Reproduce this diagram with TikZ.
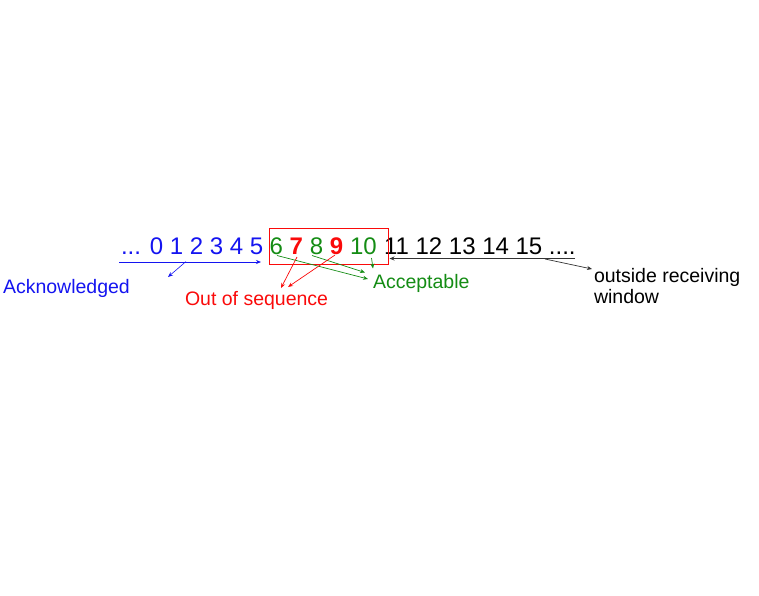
\documentclass[tikz,border=0pt]{standalone}
\usepackage{fontspec}
\setmainfont{Liberation Sans}
\usetikzlibrary{arrows.meta}
\definecolor{ackblue}{RGB}{20,20,240}
\definecolor{okgreen}{RGB}{20,140,20}
\definecolor{seqred}{RGB}{250,10,10}
\begin{document}
\begin{tikzpicture}[x=1pt,y=-1pt,
  num/.style={inner sep=0pt,outer sep=0pt,anchor=base west,font=\fontsize{24}{28}\selectfont},
  lbl/.style={inner sep=0pt,outer sep=0pt,anchor=base west,font=\fontsize{19.5}{22}\selectfont},
  conn/.style={line width=0.7pt,-{Stealth[length=5pt,width=4pt]}}]
\useasboundingbox (0,0) rectangle (759,595);
% sequence numbers
\node[num,text=ackblue] (acked) at (121,254) {... 0 1 2 3 4 5};
\node[num,text=okgreen] (n6) at (269.6,254) {6};
\node[num,text=seqred] (n7) at (289.7,254) {\bfseries 7};
\node[num,text=okgreen] (n8) at (309.8,254) {8};
\node[num,text=seqred] (n9) at (329.9,254) {\bfseries 9};
\node[num,text=okgreen] (n10) at (350,254) {10};
\node[num,text=black] (rest) at (384,254) {11 12 13 14 15 ....};
% receiving window
\node[draw=seqred,line width=0.7pt,inner sep=0pt,minimum width=119pt,minimum height=36pt,anchor=north west] (win) at (269,228) {};
% labels
\node[lbl,text=ackblue] (ack) at (3,293) {Acknowledged};
\node[lbl,text=seqred] (oos) at (185,305) {Out of sequence};
\node[lbl,text=okgreen] (acc) at (373,288) {Acceptable};
\node[lbl,text=black] (out) at (594,282) {outside receiving};
\node[lbl,text=black] (out2) at (594,303) {window};
% blue arrows
\coordinate (bs) at (119,262);
\coordinate (be) at (261,262);
\coordinate (bm) at (186,261.5);
\coordinate (bt) at (168,277);
\draw[conn,ackblue] (bs) -- (be);
\draw[conn,ackblue,line width=0.6pt] (bm) -- (bt);
% green arrows
\coordinate (g6) at (277,255.5);
\coordinate (g6e) at (368,279);
\coordinate (g8) at (312,255.5);
\coordinate (g8e) at (365,272.5);
\coordinate (g10) at (371.5,258);
\coordinate (g10e) at (373,268.5);
\draw[conn,okgreen] (g6) -- (g6e);
\draw[conn,okgreen] (g8) -- (g8e);
\draw[conn,okgreen] (g10) -- (g10e);
% red arrows
\coordinate (r7) at (297,257);
\coordinate (r7e) at (281,288);
\coordinate (r9) at (335,255);
\coordinate (r9e) at (288,287);
\draw[conn,seqred] (r7) -- (r7e);
\draw[conn,seqred] (r9) -- (r9e);
% black arrows
\coordinate (ks) at (575,258.5);
\coordinate (ke) at (389.5,258.5);
\coordinate (km) at (545,259);
\coordinate (kt) at (592,269);
\draw[conn,black!80] (ks) -- (ke);
\draw[conn,black!80] (km) -- (kt);
\end{tikzpicture}
\end{document}
